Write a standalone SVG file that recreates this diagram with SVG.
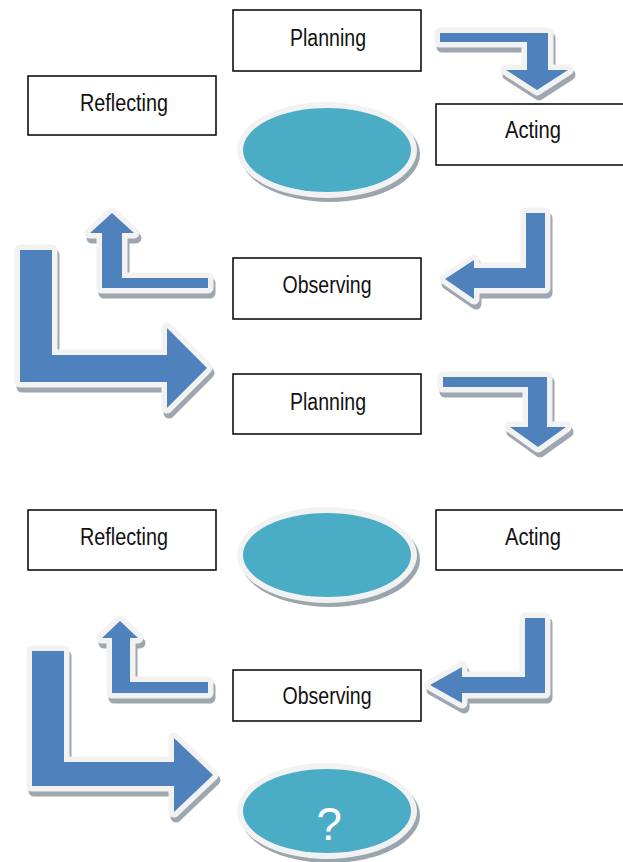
<svg xmlns="http://www.w3.org/2000/svg" width="623" height="862" viewBox="0 0 623 862">
<style>
.box{fill:#fff;stroke:#000;stroke-width:1.5}
.lbl{font-family:"Liberation Sans",Arial,sans-serif;font-size:23px;fill:#111;text-anchor:middle}
.sh{fill:#9ea7b0;stroke:#9ea7b0;stroke-width:11;stroke-linejoin:round}
.ar{fill:#4f81bd;stroke:#f2f2f2;stroke-width:11;stroke-linejoin:round;paint-order:stroke}
.esh{fill:#9aa5ad}
.ering{fill:#f2f2f2}
.eb{fill:#4bacc6}
</style>
<defs>
<g id="ell">
<ellipse class="esh" cx="3" cy="4" rx="90" ry="48"/>
<ellipse class="ering" cx="0" cy="0" rx="90" ry="48"/>
<ellipse class="eb" cx="0" cy="0" rx="84" ry="42"/>
</g>
</defs>
<rect width="623" height="862" fill="#fff"/>

<g id="planning1"><rect class="box" x="233" y="10" width="188" height="61"/><text class="lbl" x="328" y="46" textLength="76" lengthAdjust="spacingAndGlyphs">Planning</text></g>
<g id="reflecting1"><rect class="box" x="28" y="76" width="188" height="59"/><text class="lbl" x="124" y="111" textLength="88" lengthAdjust="spacingAndGlyphs">Reflecting</text></g>
<g id="acting1"><rect class="box" x="436" y="104" width="190" height="61"/><text class="lbl" x="533" y="138" textLength="56" lengthAdjust="spacingAndGlyphs">Acting</text></g>
<g id="center1"><use href="#ell" x="327" y="150"/></g>
<g id="observing1"><rect class="box" x="233" y="258" width="188" height="61"/><text class="lbl" x="327" y="293" textLength="89" lengthAdjust="spacingAndGlyphs">Observing</text></g>
<g id="planning2"><rect class="box" x="233" y="374" width="188" height="60"/><text class="lbl" x="328" y="410" textLength="76" lengthAdjust="spacingAndGlyphs">Planning</text></g>
<g id="reflecting2"><rect class="box" x="28" y="510" width="188" height="60"/><text class="lbl" x="124" y="545" textLength="88" lengthAdjust="spacingAndGlyphs">Reflecting</text></g>
<g id="center2"><use href="#ell" x="327" y="555"/></g>
<g id="acting2"><rect class="box" x="436" y="510" width="190" height="60"/><text class="lbl" x="533" y="545" textLength="56" lengthAdjust="spacingAndGlyphs">Acting</text></g>
<g id="observing2"><rect class="box" x="233" y="670" width="188" height="51"/><text class="lbl" x="327" y="704" textLength="89" lengthAdjust="spacingAndGlyphs">Observing</text></g>
<g id="next"><use href="#ell" x="327" y="811"/><text x="329" y="840" font-family="Liberation Sans,Arial,sans-serif" font-size="46" fill="#fff" text-anchor="middle">?</text></g>

<g id="connectors">
<g transform="translate(2,5)">
<path class="sh" d="M440,33 H548 V70 H568 L537,90 L506,70 H527 V42 H440 Z"/>
<path class="sh" d="M526,213 H545 V288 H474 V299 L445,279 L474,260 V268 H526 Z"/>
<path class="sh" d="M208,278 V288 H102 V233 H90 L112,213 L134,233 H122 V278 Z"/>
<path class="sh" d="M20,250 H52 V355 H167 V328 L207,368 L167,408 V382 H20 Z"/>
<path class="sh" d="M443,377 H547 V427 H566 L538,447 L510,427 H528 V387 H443 Z"/>
<path class="sh" d="M525,618 H545 V693 H462 V703 L430,685 L462,667 V677 H525 Z"/>
<path class="sh" d="M208,682 V693 H112 V638 H102 L120,621 L138,638 H130 V682 Z"/>
<path class="sh" d="M32,651 H64 V762 H174 V738 L213,775 L174,812 V786 H32 Z"/>
</g>
<path class="ar" d="M440,33 H548 V70 H568 L537,90 L506,70 H527 V42 H440 Z"/>
<path class="ar" d="M526,213 H545 V288 H474 V299 L445,279 L474,260 V268 H526 Z"/>
<path class="ar" d="M208,278 V288 H102 V233 H90 L112,213 L134,233 H122 V278 Z"/>
<path class="ar" d="M20,250 H52 V355 H167 V328 L207,368 L167,408 V382 H20 Z"/>
<path class="ar" d="M443,377 H547 V427 H566 L538,447 L510,427 H528 V387 H443 Z"/>
<path class="ar" d="M525,618 H545 V693 H462 V703 L430,685 L462,667 V677 H525 Z"/>
<path class="ar" d="M208,682 V693 H112 V638 H102 L120,621 L138,638 H130 V682 Z"/>
<path class="ar" d="M32,651 H64 V762 H174 V738 L213,775 L174,812 V786 H32 Z"/>
</g>
</svg>
